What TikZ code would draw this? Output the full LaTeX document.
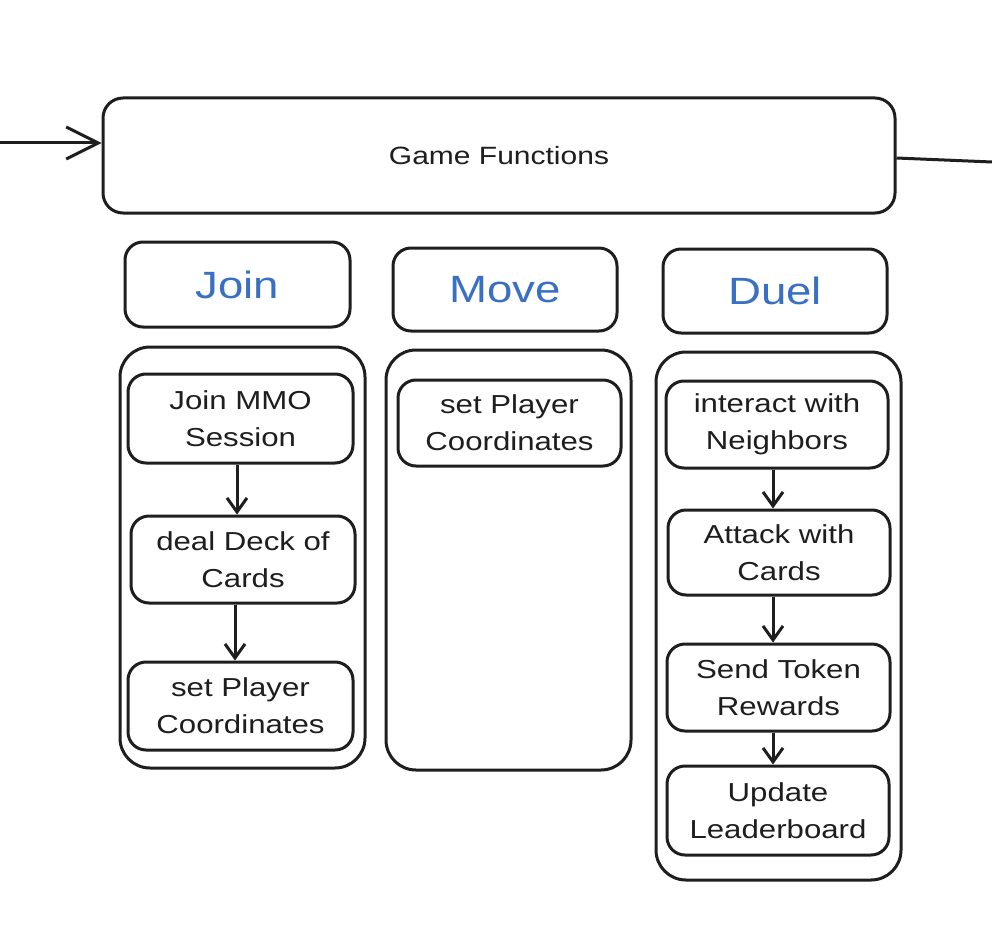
\documentclass[tikz,border=0pt]{standalone}
\usepackage{fontspec}
\setmainfont[FakeStretch=1.2]{Liberation Sans}
\usetikzlibrary{arrows.meta}
\definecolor{inkc}{HTML}{1E1E1E}
\definecolor{headblue}{HTML}{3A70C4}
\tikzset{
  box/.style={draw=inkc, line width=3pt, rounded corners=18pt, fill=white, align=center, text=inkc, inner sep=0pt,
    font=\fontsize{26}{37}\selectfont},
  cont/.style={draw=inkc, line width=3pt, rounded corners=30pt, fill=white},
  head/.style={box, text=headblue, font=\fontsize{38}{44}\selectfont},
  conn/.style={draw=inkc, line width=3pt, -{Straight Barb[length=14pt, width=20pt, line width=3pt]}},
  bigconn/.style={draw=inkc, line width=3pt, -{Straight Barb[length=32pt, width=32pt, line width=3pt]}},
}
\begin{document}
\begin{tikzpicture}[x=1pt,y=-1pt]
\useasboundingbox[fill=white] (0,0) rectangle (992,944);
% top box
\node[box, rounded corners=20pt, minimum width=792pt, minimum height=115pt, font=\fontsize{25}{30}\selectfont] (gf) at (499,155.5) {Game Functions};
\coordinate (inp) at (0,143);
\coordinate (outp) at (992,162);
\draw[bigconn] (inp) -- (inp -| gf.west);
\draw[draw=inkc, line width=3pt] (gf.east |- 0,158) -- (outp);
% headers
\node[head, minimum width=225pt, minimum height=85pt] (hjoin) at (237.5,284.5) {Join};
\node[head, minimum width=224pt, minimum height=83pt] (hmove) at (505,289.5) {Move};
\node[head, minimum width=224pt, minimum height=84pt] (hduel) at (775,291) {Duel};
% containers
\node[cont, minimum width=245pt, minimum height=421pt] (cjoin) at (242.5,557.5) {};
\node[cont, minimum width=245pt, minimum height=420pt] (cmove) at (508.5,560) {};
\node[cont, minimum width=245pt, minimum height=528pt] (cduel) at (778.5,616) {};
% join column
\node[box, minimum width=225pt, minimum height=89pt] (j1) at (240.5,418.5) {Join MMO\\Session};
\node[box, minimum width=224pt, minimum height=87pt] (j2) at (243,559.5) {deal Deck of\\Cards};
\node[box, minimum width=225pt, minimum height=88pt] (j3) at (240.5,706) {set Player\\Coordinates};
\coordinate (jx1) at (237,0);
\coordinate (jx2) at (235,0);
\draw[conn] (j1.south -| jx1) -- (j2.north -| jx1);
\draw[conn] (j2.south -| jx2) -- (j3.north -| jx2);
% move column
\node[box, minimum width=223pt, minimum height=86pt] (m1) at (509.5,423) {set Player\\Coordinates};
% duel column
\node[box, minimum width=222pt, minimum height=87pt] (d1) at (777,424.5) {interact with\\Neighbors};
\node[box, minimum width=222pt, minimum height=85pt] (d2) at (779,552.5) {Attack with\\Cards};
\node[box, minimum width=223pt, minimum height=87pt] (d3) at (778.5,687.5) {Send Token\\Rewards};
\node[box, minimum width=222pt, minimum height=89pt] (d4) at (778,810.5) {Update\\Leaderboard};
\coordinate (ax) at (773,0);
\draw[conn] (d1.south -| ax) -- (d2.north -| ax);
\draw[conn] (d2.south -| ax) -- (d3.north -| ax);
\draw[conn] (d3.south -| ax) -- (d4.north -| ax);
\end{tikzpicture}
\end{document}
